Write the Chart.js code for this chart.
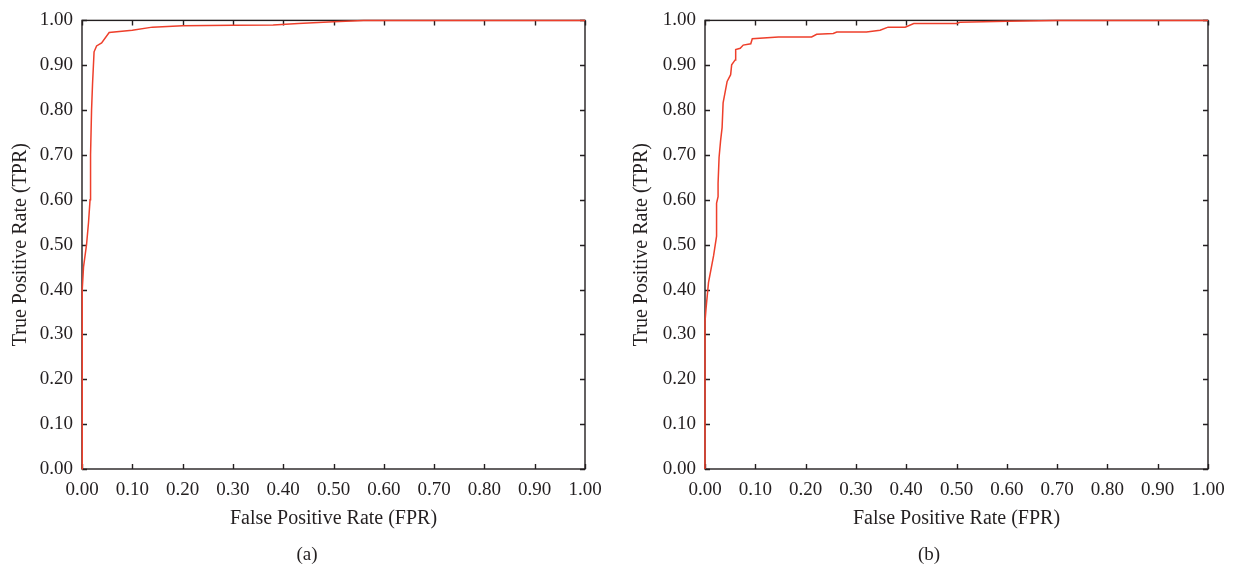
<!DOCTYPE html>
<html>
<head>
<meta charset="utf-8">
<script src="https://cdn.jsdelivr.net/npm/chart.js@4.4.0/dist/chart.umd.min.js"></script>
<style>
  body { margin: 0; background: #fff; width: 1236px; height: 571px; overflow: hidden; position: relative; }
  .box { position: absolute; top: 0; }
  .cap { position: absolute; top: 543px; font: 19px "Liberation Serif", serif; color: #231f20; transform: translateX(-50%); }
</style>
</head>
<body>
<div class="box" style="left:0"><canvas id="rocA" width="618" height="571"></canvas></div>
<div class="box" style="left:621px"><canvas id="rocB" width="615" height="571"></canvas></div>
<div class="cap" style="left:307px">(a)</div>
<div class="cap" style="left:929px">(b)</div>
<script>
// ROC (a)
const fprA = [0, 0, 0.001, 0.003, 0.009, 0.013, 0.016, 0.017, 0.019, 0.021, 0.024, 0.029, 0.039, 0.054, 0.10, 0.14, 0.20, 0.30, 0.38, 0.43, 0.50, 0.56, 1.0];
const tprA = [0, 0.35, 0.40, 0.45, 0.50, 0.55, 0.60, 0.70, 0.80, 0.86, 0.93, 0.943, 0.95, 0.973, 0.978, 0.985, 0.988, 0.989, 0.99, 0.993, 0.997, 1.0, 1.0];

// ROC (b)
const fprB = [0, 0, 0.002, 0.007, 0.017, 0.023, 0.023, 0.026, 0.026, 0.028, 0.031, 0.034, 0.036, 0.044, 0.051, 0.053, 0.060, 0.061, 0.070, 0.076, 0.091, 0.094, 0.146, 0.212, 0.222, 0.255, 0.262, 0.321, 0.348, 0.364, 0.398, 0.415, 0.50, 0.507, 0.60, 0.70, 1.0];
const tprB = [0, 0.328, 0.357, 0.416, 0.475, 0.519, 0.593, 0.607, 0.637, 0.695, 0.732, 0.761, 0.816, 0.864, 0.879, 0.901, 0.912, 0.935, 0.938, 0.945, 0.948, 0.959, 0.963, 0.963, 0.969, 0.971, 0.974, 0.974, 0.978, 0.985, 0.985, 0.993, 0.993, 0.996, 0.998, 1.0, 1.0];

const xTitle = 'False Positive Rate (FPR)';
const yTitle = 'True Positive Rate (TPR)';

const ink = '#231f20';
const red = '#ee3f2b';

// box around plot + inward ticks on all four sides
const frameTicks = {
  id: 'frameTicks',
  beforeDatasetsDraw(chart) {
    const {ctx, chartArea: a, scales: {x, y}} = chart;
    const len = 5;
    ctx.save();
    ctx.strokeStyle = ink;
    ctx.lineWidth = 1.4;
    ctx.strokeRect(a.left, a.top, a.right - a.left, a.bottom - a.top);
    ctx.beginPath();
    x.ticks.forEach(t => {
      const px = Math.round(x.getPixelForValue(t.value)) + 0.5;
      ctx.moveTo(px, a.bottom); ctx.lineTo(px, a.bottom - len);
      ctx.moveTo(px, a.top); ctx.lineTo(px, a.top + len);
    });
    y.ticks.forEach(t => {
      const py = Math.round(y.getPixelForValue(t.value)) + 0.5;
      ctx.moveTo(a.left, py); ctx.lineTo(a.left + len, py);
      ctx.moveTo(a.right, py); ctx.lineTo(a.right - len, py);
    });
    ctx.stroke();
    ctx.restore();
  }
};

function makeRoc(id, fpr, tpr, yWidth, padRight) {
  const pts = fpr.map((v, i) => ({x: v, y: tpr[i]}));
  const tickFont = {family: '"Liberation Serif", serif', size: 19};
  const titleFont = {family: '"Liberation Serif", serif', size: 20};
  return new Chart(document.getElementById(id), {
    type: 'scatter',
    data: {
      datasets: [{
        data: pts,
        showLine: true,
        borderColor: red,
        borderWidth: 1.5,
        pointRadius: 0,
        tension: 0,
        clip: false
      }]
    },
    options: {
      responsive: false,
      animation: false,
      layout: {padding: {top: 15, right: padRight, left: 0, bottom: 0}},
      plugins: {legend: {display: false}, tooltip: {enabled: false}},
      scales: {
        x: {
          type: 'linear', min: 0, max: 1,
          grid: {display: false, drawTicks: false},
          border: {display: false},
          ticks: {stepSize: 0.1, padding: 10, color: ink, font: tickFont, maxRotation: 0,
                  callback: v => Number(v).toFixed(2)},
          title: {display: true, text: xTitle, color: ink, font: titleFont, padding: {top: 0, bottom: 40}},
          afterFit: s => { s.height = 102; }
        },
        y: {
          type: 'linear', min: 0, max: 1,
          grid: {display: false, drawTicks: false},
          border: {display: false},
          ticks: {stepSize: 0.1, padding: 9, color: ink, font: tickFont,
                  callback: v => Number(v).toFixed(2)},
          title: {display: true, text: yTitle, color: ink, font: titleFont, padding: {top: 9, bottom: 0}},
          afterFit: s => { s.width = yWidth; }
        }
      }
    },
    plugins: [frameTicks]
  });
}

makeRoc('rocA', fprA, tprA, 82, 33);
makeRoc('rocB', fprB, tprB, 84, 28);
</script>
</body>
</html>
